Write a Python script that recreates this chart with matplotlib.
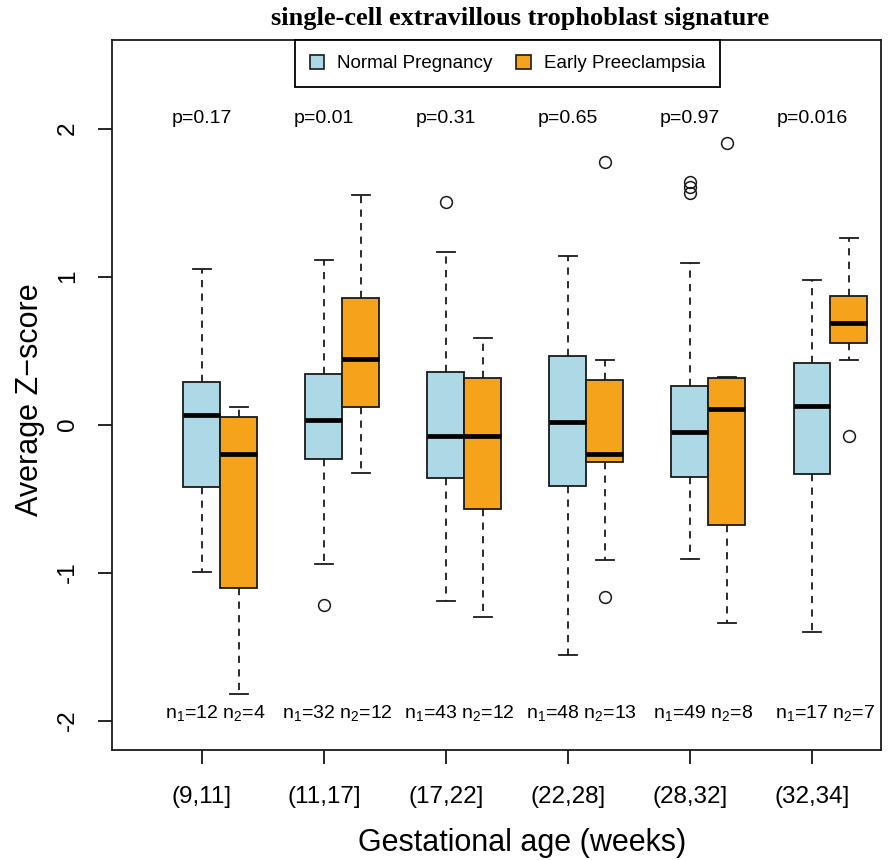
import matplotlib
matplotlib.use('Agg')
import matplotlib.pyplot as plt
from matplotlib.patches import Patch

plt.rcParams['font.family'] = ['Liberation Sans', 'DejaVu Sans']
plt.rcParams['mathtext.fontset'] = 'custom'
plt.rcParams['mathtext.rm'] = 'Liberation Sans'
plt.rcParams['mathtext.it'] = 'Liberation Sans:italic'

# ---------------- data ----------------
groups = ["(9,11]", "(11,17]", "(17,22]", "(22,28]", "(28,32]", "(32,34]"]
p_values = ["p=0.17", "p=0.01", "p=0.31", "p=0.65", "p=0.97", "p=0.016"]
n_normal = [12, 32, 43, 48, 49, 17]
n_pe = [4, 12, 12, 13, 8, 7]
series_names = ["Normal Pregnancy", "Early Preeclampsia"]

# five-number summaries: [lower whisker, Q1, median, Q3, upper whisker]
normal_stats = [
    [-0.995, -0.424, 0.066, 0.289, 1.049],
    [-0.945, -0.235, 0.028, 0.341, 1.111],
    [-1.193, -0.362, -0.078, 0.353, 1.164],
    [-1.559, -0.413, 0.016, 0.461, 1.136],
    [-0.911, -0.357, -0.050, 0.258, 1.089],
    [-1.403, -0.335, 0.126, 0.418, 0.974],
]
normal_fliers = [[], [-1.222], [1.502], [], [1.639, 1.602, 1.564], []]

pe_stats = [
    [-1.823, -1.105, -0.199, 0.049, 0.118],
    [-0.326, 0.118, 0.443, 0.855, 1.551],
    [-1.299, -0.570, -0.077, 0.313, 0.586],
    [-0.918, -0.250, -0.200, 0.298, 0.436],
    [-1.338, -0.680, 0.105, 0.313, 0.323],
    [0.433, 0.551, 0.686, 0.866, 1.257],
]
pe_fliers = [[], [], [], [-1.163, 1.777], [1.900], [-0.077]]

title = "single-cell extravillous trophoblast signature"
xlabel = "Gestational age (weeks)"
ylabel = "Average Z\u2212score"
yticks = [-2, -1, 0, 1, 2]

# ---------------- style ----------------
col_normal = "#ADD8E6"
col_pe = "#F6A31C"
edge = "#1a1a1a"
offset = 0.303
bw = 0.303


def to_bxp(stats, fliers):
    out = []
    for s, f in zip(stats, fliers):
        out.append(dict(whislo=s[0], q1=s[1], med=s[2], q3=s[3], whishi=s[4], fliers=f))
    return out


fig = plt.figure(figsize=(8.95, 8.6), dpi=100)
ax = fig.add_axes([0.1251, 0.1279, 0.8593, 0.8256])

pos = list(range(1, len(groups) + 1))
common = dict(
    widths=bw, patch_artist=True, manage_ticks=False, capwidths=0.15,
    medianprops=dict(color="black", linewidth=3.4, solid_capstyle="butt"),
    whiskerprops=dict(color=edge, linewidth=1.3, linestyle=(0, (4, 3.5))),
    capprops=dict(color=edge, linewidth=1.3),
    flierprops=dict(marker="o", markerfacecolor="none", markeredgecolor=edge,
                    markersize=8.5, markeredgewidth=1.1, linestyle="none"),
)
b1 = ax.bxp(to_bxp(normal_stats, normal_fliers), positions=pos,
            boxprops=dict(facecolor=col_normal, edgecolor=edge, linewidth=1.3), **common)
b2 = ax.bxp(to_bxp(pe_stats, pe_fliers), positions=[p + offset for p in pos],
            boxprops=dict(facecolor=col_pe, edgecolor=edge, linewidth=1.3), **common)

ax.set_xlim(0.2623, 6.566)
ax.set_ylim(-2.199, 2.598)

ax.set_xticks(pos)
ax.set_xticklabels(groups)
ax.set_yticks(yticks)
ax.set_yticklabels([str(v) for v in yticks])
ax.tick_params(axis='both', direction='out', length=10, width=1.2, labelsize=17.5, pad=14)
ax.tick_params(axis='x', pad=16)
ax.tick_params(axis='y', labelrotation=90)
for lab in ax.get_yticklabels():
    lab.set_va('center')
for sp in ax.spines.values():
    sp.set_linewidth(1.3)
    sp.set_color(edge)

# p-values and sample sizes
for i, p in enumerate(pos):
    ax.text(p, 2.07, p_values[i], ha='center', va='center', fontsize=14)
    ax.text(p + 0.11, -1.95, r"n$_1$=%d n$_2$=%d" % (n_normal[i], n_pe[i]),
            ha='center', va='center', fontsize=14)

# legend
handles = [Patch(facecolor=col_normal, edgecolor=edge, linewidth=1.2),
           Patch(facecolor=col_pe, edgecolor=edge, linewidth=1.2)]
leg = ax.legend(handles, series_names, loc='upper center', bbox_to_anchor=(0.514, 1.0),
                ncol=2, fontsize=13.5, frameon=True, fancybox=False, framealpha=1,
                edgecolor='black', borderaxespad=0, handlelength=0.75, handleheight=0.75,
                handletextpad=0.7, columnspacing=1.3, borderpad=0.8)
leg.get_frame().set_linewidth(1.3)

# labels
fig.text(520 / 895, 1 - 19 / 860, title, ha='center', va='center', fontsize=19,
         fontweight='bold', family=['Liberation Serif', 'DejaVu Serif'])
fig.text(522 / 895, 1 - 843 / 860, xlabel, ha='center', va='center', fontsize=22)
fig.text(30 / 895, 1 - 400 / 860, ylabel, ha='center', va='center', fontsize=22, rotation=90)

fig.savefig('out.png', dpi=100)
